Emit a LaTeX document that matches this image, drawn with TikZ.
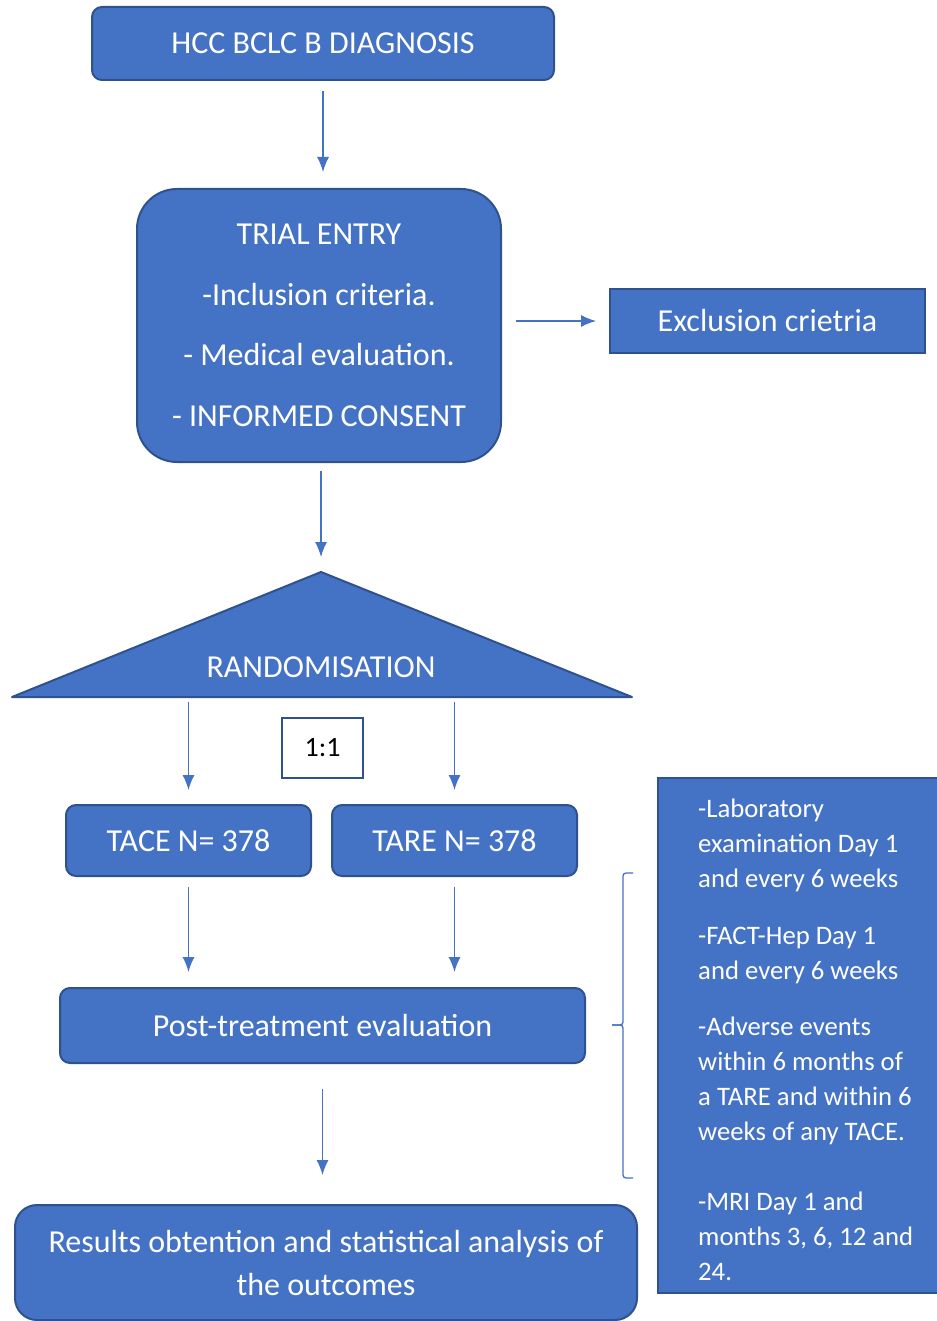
\documentclass[tikz,border=0pt]{standalone}
\usepackage{fontspec}
\setmainfont{Carlito}
\usetikzlibrary{arrows.meta}
\definecolor{boxblue}{HTML}{4472C4}
\definecolor{boxedge}{HTML}{2F528F}

\begin{document}
\begin{tikzpicture}[x=1pt, y=-1pt, >={Latex[length=15pt,width=12pt]},
  bluebox/.style={draw=boxedge, fill=boxblue, line width=2pt, text=white,
    inner sep=0pt, align=center, font=\fontsize{32}{38}\selectfont},
  flow/.style={->, draw=boxblue, line width=1.3pt}]

\useasboundingbox (0,0) rectangle (936,1321);

% --- Main column ---
\node[bluebox, rounded corners=10pt, minimum width=462pt, minimum height=73pt]
  (diag) at (323,43.5) {HCC BCLC B DIAGNOSIS};
\node[bluebox, rounded corners=40pt, minimum width=364pt, minimum height=273pt,
  font=\fontsize{32}{60.5}\selectfont]
  (entry) at (319,325.5) {TRIAL ENTRY\\-Inclusion criteria.\\- Medical evaluation.\\- INFORMED CONSENT};
\node[bluebox, minimum width=315pt, minimum height=64pt]
  (excl) at (767.5,321) {Exclusion crietria};

% Randomisation triangle
\coordinate (apex) at (321,572);
\coordinate (baseL) at (12,697);
\coordinate (baseR) at (632,697);
\coordinate (base) at (321,697);
\draw[draw=boxedge, fill=boxblue, line width=2pt, line join=round] (apex) -- (baseR) -- (baseL) -- cycle;
\node[text=white, font=\fontsize{32}{38}\selectfont] (rand) at (321,667) {RANDOMISATION};

\node[draw=boxedge, line width=1.8pt, fill=white, minimum width=81pt, minimum height=60pt,
  font=\fontsize{28}{34}\selectfont] (ratio) at (322.5,748) {1:1};

\node[bluebox, rounded corners=10pt, minimum width=245pt, minimum height=71pt]
  (tace) at (188.5,840.5) {TACE N= 378};
\node[bluebox, rounded corners=10pt, minimum width=245pt, minimum height=71pt]
  (tare) at (454.5,840.5) {TARE N= 378};
\node[bluebox, rounded corners=10pt, minimum width=525pt, minimum height=75pt]
  (post) at (322.5,1025.5) {Post-treatment evaluation};
\node[bluebox, rounded corners=22pt, minimum width=622pt, minimum height=115pt,
  font=\fontsize{32}{43}\selectfont]
  (results) at (326,1262.5) {Results obtention and statistical analysis of\\the outcomes};

% --- Follow-up schedule ---
\node[bluebox, minimum width=282pt, minimum height=515pt] (follow) at (799,1035.5) {};
\node[text=white, align=left, anchor=north west, inner sep=0pt,
  font=\fontsize{26.7}{35}\selectfont] (followtxt) at (698,799)
  {-Laboratory\\examination Day 1\\and every 6 weeks\\[22pt]
   -FACT-Hep Day 1\\and every 6 weeks\\[21pt]
   -Adverse events\\within 6 months of\\a TARE and within 6\\weeks of any TACE.\\[35pt]
   -MRI Day 1 and\\months 3, 6, 12 and\\24.};

% bracket next to the schedule
\coordinate (bracetop) at (633,873);
\coordinate (bracemid) at (612,1025);
\coordinate (bracebot) at (633,1178);
\draw[boxblue, line width=1.3pt, rounded corners=3pt]
  (bracetop) -- (623,873) -- (623,1025) -- (bracemid);
\draw[boxblue, line width=1.3pt, rounded corners=3pt]
  (bracemid) -- (623,1025) -- (623,1178) -- (bracebot);

% --- Arrows ---
\draw[flow, shorten <=10pt, shorten >=16pt] (diag.south) -- (diag.south |- entry.north);
\draw[flow, shorten <=14pt, shorten >=13pt] (entry.east |- excl.west) -- (excl.west);
\draw[flow, shorten <=8pt, shorten >=15pt] (apex |- entry.south) -- (apex);
\draw[flow, shorten <=5pt, shorten >=14pt] (tace.north |- base) -- (tace.north);
\draw[flow, shorten <=5pt, shorten >=14pt] (tare.north |- base) -- (tare.north);
\draw[flow, shorten <=10pt, shorten >=15pt] (tace.south) -- (tace.south |- post.north);
\draw[flow, shorten <=10pt, shorten >=15pt] (tare.south) -- (tare.south |- post.north);
\draw[flow, shorten <=25pt, shorten >=29pt] (post.south) -- (post.south |- results.north);

\end{tikzpicture}
\end{document}
